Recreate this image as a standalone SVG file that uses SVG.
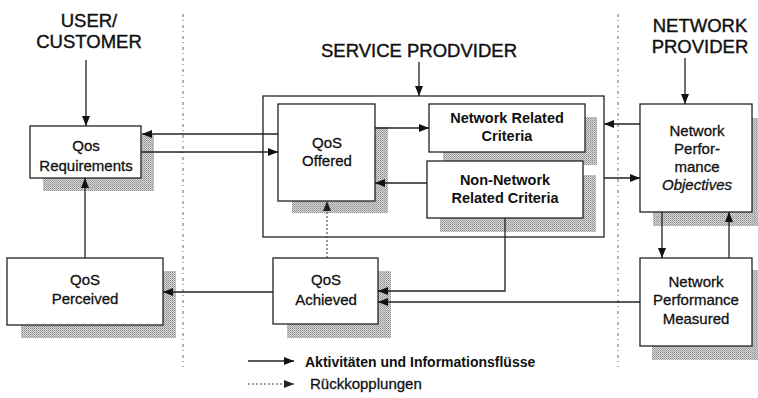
<svg xmlns="http://www.w3.org/2000/svg" width="758" height="398" viewBox="0 0 758 398">
  <defs>
    <!-- stippled grey used for the drop shadows -->
    <pattern id="stipple" width="2" height="2" patternUnits="userSpaceOnUse">
      <rect width="2" height="2" fill="#d6d6d6"/>
      <rect width="1" height="1" fill="#8e8e8e"/>
      <rect x="1" y="1" width="1" height="1" fill="#a8a8a8"/>
    </pattern>
    <marker id="arrow" viewBox="0 0 10 8" refX="10" refY="4" markerWidth="10" markerHeight="8" markerUnits="userSpaceOnUse" orient="auto">
      <path d="M0,0 L10,4 L0,8 Z" fill="#111"/>
    </marker>
    <marker id="arrowGrey" viewBox="0 0 10 8" refX="10" refY="4" markerWidth="10" markerHeight="8" markerUnits="userSpaceOnUse" orient="auto">
      <path d="M0,0 L10,4 L0,8 Z" fill="#222"/>
    </marker>
  </defs>
  <style>
    .box { fill: #fff; stroke: #222; stroke-width: 1.3; }
    .shadow { fill: url(#stipple); stroke: none; }
    .frame { fill: none; stroke: #222; stroke-width: 1.3; }
    .t { font-family: "Liberation Sans", Arial, sans-serif; font-size: 15px; fill: #111; stroke: #111; stroke-width: 0.3; text-anchor: middle; }
    .tb { font-family: "Liberation Sans", Arial, sans-serif; font-size: 14.5px; font-weight: bold; fill: #111; text-anchor: middle; }
    .head { font-family: "Liberation Sans", Arial, sans-serif; font-size: 18.5px; fill: #111; stroke: #111; stroke-width: 0.4; text-anchor: middle; }
    .legend { font-family: "Liberation Sans", Arial, sans-serif; font-size: 14px; font-weight: bold; fill: #111; }
    .legend-r { font-family: "Liberation Sans", Arial, sans-serif; font-size: 15px; fill: #111; stroke: #111; stroke-width: 0.3; }
    .flow { fill: none; stroke: #222; stroke-width: 1.3; }
    .feedback { fill: none; stroke: #444; stroke-width: 1.1; stroke-dasharray: 2 2; }
    .divider { fill: none; stroke: #666; stroke-width: 1; stroke-dasharray: 3 3 1 4; }
  </style>

  <rect width="758" height="398" fill="#fff"/>

  <!-- column dividers -->
  <g id="dividers">
    <line class="divider" x1="183" y1="14" x2="183" y2="367"/>
    <line class="divider" x1="618" y1="14" x2="618" y2="367"/>
  </g>

  <!-- column headings -->
  <g id="heading-user">
    <text class="head" x="89" y="27">USER/</text>
    <text class="head" x="89" y="48">CUSTOMER</text>
  </g>
  <g id="heading-service">
    <text class="head" x="419" y="57">SERVICE PRODVIDER</text>
  </g>
  <g id="heading-network">
    <text class="head" x="700" y="32">NETWORK</text>
    <text class="head" x="700" y="53">PROVIDER</text>
  </g>

  <!-- service provider frame -->
  <g id="service-frame">
    <rect class="frame" x="263" y="96" width="341" height="141"/>
  </g>

  <g id="qos-requirements">
    <path class="shadow" d="M141,135 H154 V191 H43 V178 H141 Z"/>
    <rect class="box" x="30" y="126" width="111" height="52"/>
    <text class="t" x="86" y="151">Qos</text>
    <text class="t" x="86" y="171">Requirements</text>
  </g>

  <g id="qos-offered">
    <path class="shadow" d="M375,127 H388 V213 H292 V201 H375 Z"/>
    <rect class="box" x="278" y="104" width="97" height="97"/>
    <text class="t" x="327" y="148">QoS</text>
    <text class="t" x="327" y="166">Offered</text>
  </g>

  <g id="network-related-criteria">
    <path class="shadow" d="M585,117 H597 V165 H443 V152 H585 Z"/>
    <rect class="box" x="429" y="104" width="156" height="48"/>
    <text class="tb" x="507" y="123">Network Related</text>
    <text class="tb" x="507" y="141">Criteria</text>
  </g>

  <g id="non-network-related-criteria">
    <path class="shadow" d="M583,175 H596 V232 H440 V218 H583 Z"/>
    <rect class="box" x="427" y="161" width="156" height="57"/>
    <text class="tb" x="505" y="185">Non-Network</text>
    <text class="tb" x="505" y="203">Related Criteria</text>
  </g>

  <g id="network-performance-objectives">
    <path class="shadow" d="M752,118 H758 V226 H653 V212 H752 Z"/>
    <rect class="box" x="640" y="104" width="112" height="108"/>
    <text class="t" x="697" y="136">Network</text>
    <text class="t" x="697" y="154">Perfor-</text>
    <text class="t" x="697" y="172">mance</text>
    <text class="t" x="697" y="190" font-style="italic">Objectives</text>
  </g>

  <g id="network-performance-measured">
    <path class="shadow" d="M752,270 H758 V360 H652 V346 H752 Z"/>
    <rect class="box" x="640" y="258" width="112" height="88"/>
    <text class="t" x="696" y="287">Network</text>
    <text class="t" x="696" y="305">Performance</text>
    <text class="t" x="696" y="324">Measured</text>
  </g>

  <g id="qos-achieved">
    <path class="shadow" d="M378,271 H391 V338 H287 V324 H378 Z"/>
    <rect class="box" x="273" y="258" width="105" height="66"/>
    <text class="t" x="326" y="285">QoS</text>
    <text class="t" x="326" y="305">Achieved</text>
  </g>

  <g id="qos-perceived">
    <path class="shadow" d="M163,271 H176 V338 H21 V325 H163 Z"/>
    <rect class="box" x="7" y="258" width="156" height="67"/>
    <text class="t" x="85" y="285">QoS</text>
    <text class="t" x="85" y="304">Perceived</text>
  </g>

  <!-- connectors -->
  <g id="connectors">
    <line class="flow" x1="86" y1="60" x2="86" y2="126" marker-end="url(#arrow)"/>
    <line class="flow" x1="419" y1="62" x2="419" y2="96" marker-end="url(#arrow)"/>
    <line class="flow" x1="685" y1="58" x2="685" y2="104" marker-end="url(#arrow)"/>

    <line class="flow" x1="278" y1="134" x2="142" y2="134" marker-end="url(#arrow)"/>
    <line class="flow" x1="141" y1="152" x2="278" y2="152" marker-end="url(#arrow)"/>

    <line class="flow" x1="375" y1="128" x2="429" y2="128" marker-end="url(#arrow)"/>
    <line class="flow" x1="427" y1="183" x2="375" y2="183" marker-end="url(#arrow)"/>

    <line class="flow" x1="640" y1="124" x2="604" y2="124" marker-end="url(#arrow)"/>
    <line class="flow" x1="604" y1="178" x2="640" y2="178" marker-end="url(#arrow)"/>

    <line class="flow" x1="662" y1="212" x2="662" y2="258" marker-end="url(#arrow)"/>
    <line class="flow" x1="729" y1="258" x2="729" y2="212" marker-end="url(#arrow)"/>

    <polyline class="flow" points="505,218 505,291 378,291" marker-end="url(#arrow)"/>
    <line class="flow" x1="640" y1="302" x2="378" y2="302" marker-end="url(#arrow)"/>

    <line class="flow" x1="273" y1="292" x2="163" y2="292" marker-end="url(#arrow)"/>
    <line class="flow" x1="85" y1="258" x2="85" y2="178" marker-end="url(#arrow)"/>

    <line class="feedback" x1="327" y1="258" x2="327" y2="201" marker-end="url(#arrowGrey)"/>
  </g>

  <!-- legend -->
  <g id="legend">
    <line class="flow" x1="248" y1="361" x2="294" y2="361" marker-end="url(#arrow)"/>
    <text class="legend" x="305" y="367">Aktivitäten und Informationsflüsse</text>
    <line class="feedback" x1="248" y1="384" x2="294" y2="384" marker-end="url(#arrowGrey)"/>
    <text class="legend-r" x="310" y="389">Rückkopplungen</text>
  </g>
</svg>
